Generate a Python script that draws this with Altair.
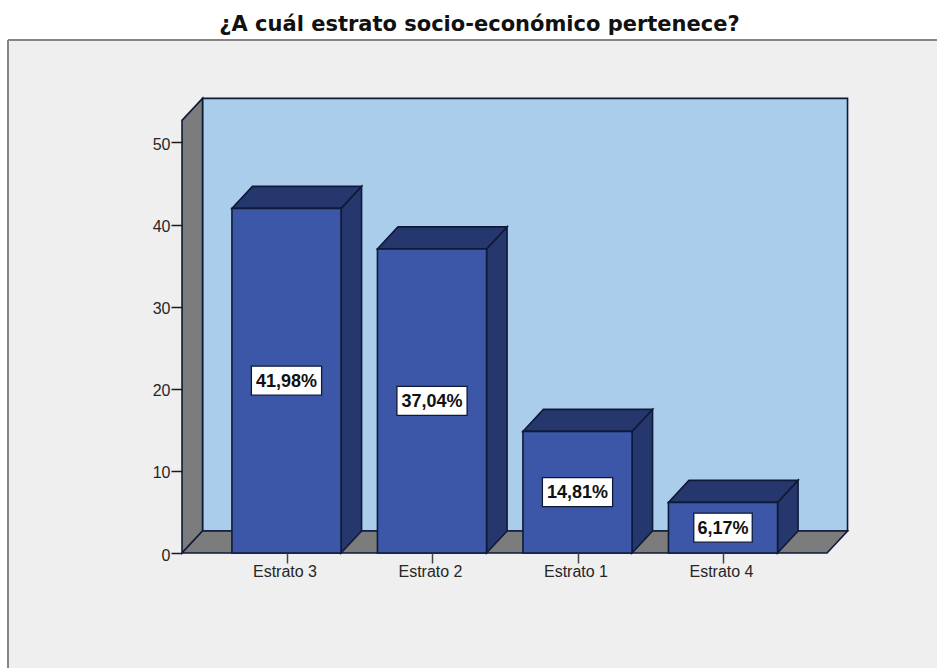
import json
import altair as alt
import pandas as pd

# Chart content
CATEGORIES = ["Estrato 3", "Estrato 2", "Estrato 1", "Estrato 4"]
COUNTS = [41.98, 37.04, 14.81, 6.17]
LABELS = ["41,98%", "37,04%", "14,81%", "6,17%"]
Y_TICKS = [0, 10, 20, 30, 40, 50]

# Colours
PANEL = "#efefef"
FRAME = "#858585"
WALL = "#abcdec"
SHADE = "#7c7c7c"
FRONT = "#3c56a8"
DARK = "#26376e"
EDGE = "#0f1a38"
INK = "#262626"

# Drawing size of the panel and its scales (x in category slots, y in counts)
VIEW_W, VIEW_H = 929, 628
SLOT_PX, UNIT_PX = 145.5, 8.21
ORIGIN_X, ORIGIN_Y = 278.5, 513  # category 0 / count 0 inside the panel
X_DOMAIN = [-ORIGIN_X / SLOT_PX, (VIEW_W - ORIGIN_X) / SLOT_PX]
Y_DOMAIN = [(ORIGIN_Y - VIEW_H) / UNIT_PX, ORIGIN_Y / UNIT_PX]

# Box geometry in scale units
HALF_BAR = 0.375
DEPTH_X = 20.5 / SLOT_PX
DEPTH_Y = 22 / UNIT_PX
AXIS_L, AXIS_R = -0.718, 3.715
WALL_TOP = 52.7

xs = alt.Scale(domain=X_DOMAIN, nice=False, zero=False)
ys = alt.Scale(domain=Y_DOMAIN, nice=False, zero=False)

x_axis = alt.Axis(
    orient="bottom", offset=-(VIEW_H - ORIGIN_Y), values=list(range(len(CATEGORIES))),
    labelExpr=f"{json.dumps(CATEGORIES)}[datum.value]", labelFont="Liberation Sans",
    labelFontSize=16, labelColor=INK, labelPadding=0, labelOffset=-2, labelAngle=0,
    grid=False, domain=False, tickColor="#444444", tickSize=10, tickWidth=1.5, zindex=1,
)
y_axis = alt.Axis(
    orient="left", offset=-174, values=Y_TICKS, labelFont="Liberation Sans",
    labelFontSize=16, labelColor=INK, labelPadding=1, labelOffset=2, grid=False,
    domain=False, tickColor="#1a1a1a", tickSize=11, tickWidth=1.5, zindex=1,
)


def X(field):
    return alt.X(field, type="quantitative", scale=xs, axis=x_axis, title=None)


def Y(field):
    return alt.Y(field, type="quantitative", scale=ys, axis=y_axis, title=None)


edge = dict(stroke=EDGE, strokeWidth=1.6)

# Back wall
back = alt.Chart(pd.DataFrame([dict(
    l=AXIS_L + DEPTH_X, r=AXIS_R + DEPTH_X, b=DEPTH_Y, t=WALL_TOP + DEPTH_Y)])
).mark_rect(fill=WALL, **edge).encode(x=X("l"), x2="r", y=Y("b"), y2="t")

# Left wall
left_wall = alt.Chart(pd.DataFrame([
    dict(x=AXIS_L, y=WALL_TOP, y0=0),
    dict(x=AXIS_L + DEPTH_X, y=WALL_TOP + DEPTH_Y, y0=DEPTH_Y),
])).mark_area(fill=SHADE, orient="vertical", **edge).encode(x=X("x"), y=Y("y"), y2="y0")

# Floor
floor = alt.Chart(pd.DataFrame([
    dict(y=0, x=AXIS_L, x0=AXIS_R),
    dict(y=DEPTH_Y, x=AXIS_L + DEPTH_X, x0=AXIS_R + DEPTH_X),
])).mark_area(fill=SHADE, orient="horizontal", **edge).encode(y=Y("y"), x=X("x"), x2="x0")

# Bars: side and top faces are parallelograms set back by the box depth
side_rows, top_rows, front_rows, box_rows = [], [], [], []
for i, (cat, v, lab) in enumerate(zip(CATEGORIES, COUNTS, LABELS)):
    l, r = i - HALF_BAR, i + HALF_BAR
    side_rows += [dict(cat=cat, x=r, y=v, y0=0),
                  dict(cat=cat, x=r + DEPTH_X, y=v + DEPTH_Y, y0=DEPTH_Y)]
    top_rows += [dict(cat=cat, y=v, x=l, x0=r),
                 dict(cat=cat, y=v + DEPTH_Y, x=l + DEPTH_X, x0=r + DEPTH_X)]
    front_rows.append(dict(pos=i, l=l, r=r, v=v, base=0))
    half_w = (len(lab) * 11.7) / 2 / SLOT_PX
    half_h = 14.5 / UNIT_PX
    box_rows.append(dict(pos=i, l=i - half_w, r=i + half_w, b=v / 2 - half_h,
                         t=v / 2 + half_h, mid=v / 2, label=lab))

sides = alt.Chart(pd.DataFrame(side_rows)).mark_area(
    fill=DARK, orient="vertical", **edge
).encode(x=X("x"), y=Y("y"), y2="y0", detail="cat:N")

tops = alt.Chart(pd.DataFrame(top_rows)).mark_area(
    fill=DARK, orient="horizontal", **edge
).encode(y=Y("y"), x=X("x"), x2="x0", detail="cat:N")

fronts = alt.Chart(pd.DataFrame(front_rows)).mark_rect(fill=FRONT, **edge).encode(
    x=X("l"), x2="r", y=Y("v"), y2="base"
)

boxes = alt.Chart(pd.DataFrame(box_rows)).mark_rect(
    fill="#ffffff", stroke=EDGE, strokeWidth=1.3
).encode(x=X("l"), x2="r", y=Y("b"), y2="t")

texts = alt.Chart(pd.DataFrame(box_rows)).mark_text(
    font="Liberation Sans", fontWeight="bold", fontSize=18, color="#111111",
    align="center", baseline="middle", dy=1,
).encode(x=X("pos"), y=Y("mid"), text="label:N")

# Panel border: only the top and left edges fall inside the page
frame_top = alt.Chart(pd.DataFrame({"a": [0]})).mark_rule(color=FRAME, strokeWidth=2).encode(
    x=alt.value(0), x2=alt.value(VIEW_W), y=alt.value(0)
)
frame_left = alt.Chart(pd.DataFrame({"a": [0]})).mark_rule(color=FRAME, strokeWidth=2).encode(
    x=alt.value(0), y=alt.value(0), y2=alt.value(VIEW_H)
)

chart = alt.layer(
    back, left_wall, floor, sides, tops, fronts, boxes, texts, frame_top, frame_left
).properties(
    width=VIEW_W,
    height=VIEW_H,
    padding={"left": 8, "top": 40, "right": 0, "bottom": 0},
    autosize=alt.AutoSizeParams(type="none"),
    background="#ffffff",
    title=alt.TitleParams(
        "¿A cuál estrato socio-económico pertenece?", font="DejaVu Sans",
        fontSize=21, fontWeight="bold", color="#111111", anchor="middle",
        dx=7, offset=4,
    ),
).configure_view(fill=PANEL, stroke=None)

chart.save("out.html", embed_options={"renderer": "svg", "actions": False})
